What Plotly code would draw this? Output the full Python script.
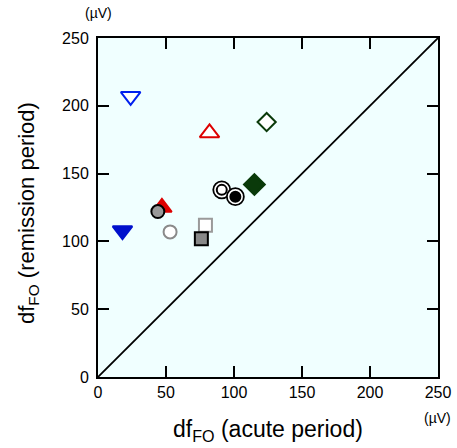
import plotly.graph_objects as go

# Data: df_FO (µV) in acute vs remission period, one entry per subject
subjects = ["S1", "S2", "S3", "S4", "S5", "S6", "S7", "S8", "S9", "S10", "S11", "S12"]
acute = [24, 18, 82, 124, 115, 91, 101, 47, 44, 53, 79, 76]
remission = [207, 108, 180, 188, 142, 138, 133, 125, 122, 107, 112, 102]
tick_vals = [0, 50, 100, 150, 200, 250]

# Styles (per subject)
symbols = ["triangle-down", "triangle-down", "triangle-up", "diamond", "diamond",
           "circle", "circle", "triangle-up", "circle", "circle", "square", "square"]
fills = ["white", "#0010cc", "white", "white", "#0a3a0a",
         "white", "black", "#dd0000", "#999999", "white", "white", "#888888"]
edges = ["#0020ee", "#0010cc", "#dd0000", "#0a3a0a", "#0a3a0a",
         "black", "black", "#dd0000", "black", "#8a8a8a", "#9a9a9a", "black"]
sizes = [17, 17, 17, 14, 16, 10, 10, 17, 13, 13, 13, 13]
double_ring = [False, False, False, False, False, True, True, False, False, False, False, False]

FONT = "Liberation Sans, Arial, Helvetica, sans-serif"

fig = go.Figure()

# diagonal identity line
diag = [0, 250]
fig.add_trace(go.Scatter(x=diag, y=diag, mode="lines",
                         line=dict(color="black", width=1.8), hoverinfo="skip"))

for i in range(len(acute)):
    if double_ring[i]:
        fig.add_trace(go.Scatter(
            x=[acute[i]], y=[remission[i]], mode="markers",
            marker=dict(symbol="circle", size=17, color="white",
                        line=dict(color="black", width=1.8)),
            name=subjects[i]))
    fig.add_trace(go.Scatter(
        x=[acute[i]], y=[remission[i]], mode="markers",
        marker=dict(symbol=symbols[i], size=sizes[i], color=fills[i],
                    line=dict(color=edges[i], width=2)),
        name=subjects[i]))

axis_common = dict(
    range=[0, 250], tickvals=tick_vals,
    ticks="inside", ticklen=11, tickwidth=2, tickcolor="black",
    showline=True, linecolor="black", linewidth=2, mirror="ticks",
    showgrid=False, zeroline=False, automargin=False,
    tickfont=dict(family=FONT, size=16, color="black"),
)

L, R, T, B = 98, 19, 38, 71
W, H = 457, 448
pw, ph = W - L - R, H - T - B


def px(xp):
    return (xp - L) / pw


def py(yp):
    return (H - B - yp) / ph


fig.update_layout(
    width=W, height=H,
    margin=dict(l=L, r=R, t=T, b=B),
    paper_bgcolor="white", plot_bgcolor="#f0ffff",
    showlegend=False,
    font=dict(family=FONT, color="black"),
    xaxis=dict(**axis_common),
    yaxis=dict(**axis_common, ticklabelstandoff=4),
)

fig.add_annotation(text="df<sub>FO</sub> (acute period)", xref="paper", yref="paper",
                   x=px(268), y=py(430), showarrow=False, font=dict(size=23),
                   xanchor="center", yanchor="middle")
fig.add_annotation(text="df<sub>FO</sub> (remission period)", xref="paper", yref="paper",
                   x=px(28), y=py(213), showarrow=False, font=dict(size=22),
                   textangle=-90, xanchor="center", yanchor="middle")
fig.add_annotation(text="(µV)", xref="paper", yref="paper",
                   x=px(98), y=py(13), showarrow=False, font=dict(size=14),
                   xanchor="center", yanchor="middle")
fig.add_annotation(text="(µV)", xref="paper", yref="paper",
                   x=px(437), y=py(418), showarrow=False, font=dict(size=14),
                   xanchor="center", yanchor="middle")

fig.write_html("out.html", config={"displayModeBar": False},
               post_script="document.body.style.margin='0';document.body.style.overflow='hidden';")
